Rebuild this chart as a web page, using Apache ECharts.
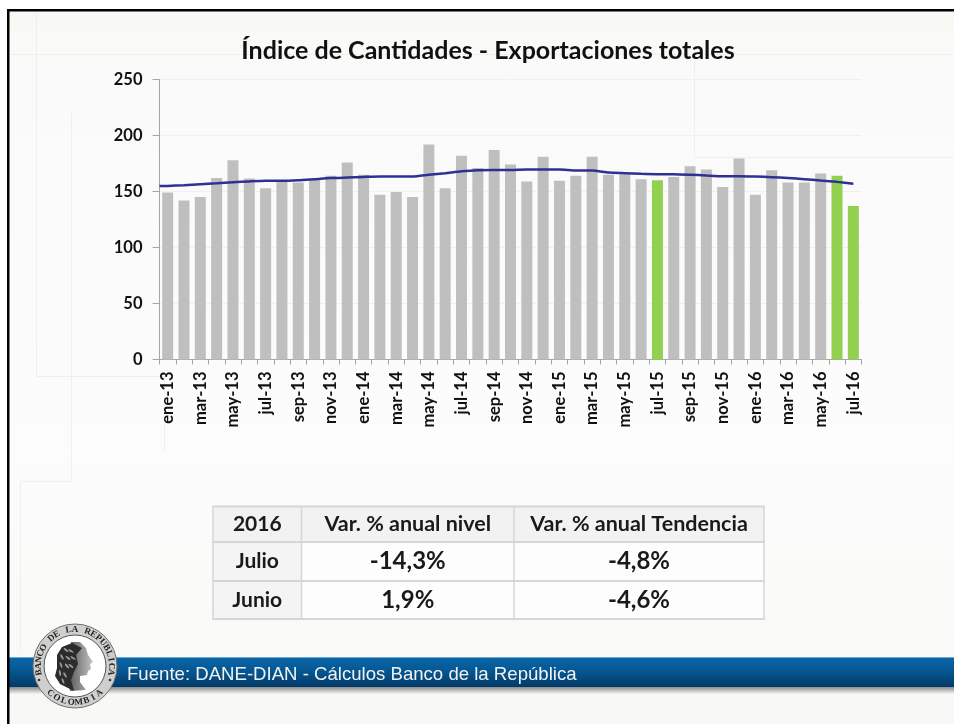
<!DOCTYPE html>
<html>
<head>
<meta charset="utf-8">
<style>html,body{margin:0;padding:0;background:#fff}#c{width:954px;height:724px}</style>
<script src="https://cdn.jsdelivr.net/npm/echarts@6/dist/echarts.min.js"></script>
</head>
<body>
<div id="c"></div>
<script>
const titulo = 'Índice de Cantidades - Exportaciones totales';
const fuente = 'Fuente: DANE-DIAN - Cálculos Banco de la República';
const meses = ['ene-13','feb-13','mar-13','abr-13','may-13','jun-13','jul-13','ago-13','sep-13','oct-13','nov-13','dic-13',
  'ene-14','feb-14','mar-14','abr-14','may-14','jun-14','jul-14','ago-14','sep-14','oct-14','nov-14','dic-14',
  'ene-15','feb-15','mar-15','abr-15','may-15','jun-15','jul-15','ago-15','sep-15','oct-15','nov-15','dic-15',
  'ene-16','feb-16','mar-16','abr-16','may-16','jun-16','jul-16'];
const indice = [149,142,145,162,178,161.6,153,158.6,158,160,164,176,
  165,147,149.5,145,192,153,182,171,187,174,159,181,
  159.5,164,181,165,165.5,161,160,163,172.6,169.6,154,179.5,
  147,169,158,158,166,164,137];
const tendencia = [155,155.6,156.5,157.4,158.3,159,159.5,159.5,160,161,162,162.5,
  163,163.4,163.4,163.4,165,166.4,168,169,169.3,169.3,169.6,169.6,
  169.6,168.8,168.8,167,166.4,165.8,165.5,165.5,165,164.3,163.7,163.7,
  163.4,162.8,162,161,159.8,158.6,157];
const tendenciaInicio = 154.8;
const destacados = ['jul-15','jun-16','jul-16'];
const yMax = 250, yPaso = 50;
const tablaFilas = [
  ['2016','Var. % anual nivel','Var. % anual Tendencia'],
  ['Julio','-14,3%','-4,8%'],
  ['Junio','1,9%','-4,6%']
];

const G = '#bfbfbf', V = '#92d050';
const font = 'Lato, "Open Sans", sans-serif';

// --- decoración ---
const graphic = [];
function rect(x,y,w,h,fill,z){graphic.push({type:'rect',silent:true,z:z,shape:{x,y,width:w,height:h},style:{fill}});}
function seg(x1,y1,x2,y2,c,w,z){graphic.push({type:'line',silent:true,z:z,shape:{x1,y1,x2,y2},style:{stroke:c,lineWidth:w||1}});}
function txt(t,x,y,size,weight,color,z,fam,align){
  graphic.push({type:'text',silent:true,z:z,x:x,y:y,
    style:{text:t,fill:color,font:(weight||'normal')+' '+size+'px '+(fam||font),textAlign:align||'center',textVerticalAlign:'middle'}});
}
// fondo
graphic.push({type:'rect',silent:true,z:-20,shape:{x:8,y:10,width:946,height:714},
  style:{fill:new echarts.graphic.LinearGradient(0,0,0,1,[
    {offset:0,color:'#f7f7f3'},{offset:0.05,color:'#fafaf8'},{offset:0.09,color:'#fafafa'},{offset:0.62,color:'#fcfcfc'},{offset:1,color:'#f8f8f6'}])}});
const fl = '#efefef';
[[36,11,36,376],[36,376,165,376],[71,113,71,481],[20,481,71,481],[20,481,20,650],[164,376,164,451],
 [10,54,954,54],[694,60,694,157],[694,157,954,157]].forEach(s=>seg(s[0]+.5,s[1]+.5,s[2]+.5,s[3]+.5,fl,1,-15));
// marco
rect(7,9,947,2.5,'#000',50);
rect(7,9,2.5,715,'#000',50);
// tabla
const colX = [213,301.5,514,764], filY = [506.5,542,581,619];
rect(213,506.5,551,35.5,'#f2f2f2',5);
rect(213,542,88.5,77,'#f4f4f4',5);
rect(301.5,542,462.5,77,'#fdfdfd',5);
colX.forEach(x=>seg(x,506,x,620,'#d6d6d6',1.5,6));
filY.forEach(y=>seg(212.5,y,764.5,y,'#d6d6d6',2,6));
const tamTabla = (i,j)=> j===0 ? 21 : (i===0 ? 21.5 : 24);
tablaFilas.forEach((fila,i)=>fila.forEach((t,j)=>{
  const cx=(colX[j]+colX[j+1])/2, cy=(filY[i]+filY[i+1])/2;
  txt(t,cx,cy,tamTabla(i,j),'bold','#1a1a1a',7);
}));
// banda inferior
graphic.push({type:'rect',silent:true,z:8,shape:{x:9,y:687,width:945,height:7},
  style:{fill:new echarts.graphic.LinearGradient(0,0,0,1,[{offset:0,color:'#8a8a8a'},{offset:1,color:'#f6f6f4'}])}});
graphic.push({type:'rect',silent:true,z:9,shape:{x:9,y:657,width:945,height:30},
  style:{fill:new echarts.graphic.LinearGradient(0,0,0,1,[{offset:0,color:'#0a68ab'},{offset:0.5,color:'#05558f'},{offset:1,color:'#033a68'}])}});
seg(9,657.5,954,657.5,'#6fa9cf',1,10);
txt(fuente,127,675,18.6,'normal','#f2f2f2',11,'"Liberation Sans", Arial, sans-serif','left');
// sello
const cx=75, cy=666;
graphic.push({type:'circle',silent:true,z:12,shape:{cx,cy,r:42},style:{fill:'#cfcfcd',stroke:'#6f6f6f',lineWidth:1}});
graphic.push({type:'circle',silent:true,z:13,shape:{cx,cy,r:31},style:{fill:'#fff',stroke:'#555',lineWidth:1}});
function arco(t,a0,a1,inv){
  const n=t.length;
  [...t].forEach((ch,i)=>{
    const a=(a0+(a1-a0)*i/(n-1))*Math.PI/180;
    const r=36.5;
    graphic.push({type:'text',silent:true,z:14,x:cx+r*Math.sin(a),y:cy-r*Math.cos(a),rotation:inv?Math.PI-a:-a,
      style:{text:ch,fill:'#222',font:'bold 9px "Liberation Serif", serif',textAlign:'center',textVerticalAlign:'middle'}});
  });
}
arco('BANCO DE LA REPUBLICA',-100,100,false);
arco('COLOMBIA',222,138,true);
graphic.push({type:'circle',silent:true,z:14,shape:{cx:cx-36,cy:cy+14,r:1.3},style:{fill:'#333'}});
graphic.push({type:'circle',silent:true,z:14,shape:{cx:cx+35,cy:cy+14,r:1.3},style:{fill:'#333'}});
// perfil
graphic.push({type:'polygon',silent:true,z:15,shape:{points:[[71,642],[80,642],[86,648],[88,655],[93,662],[90,664],[91,669],[88,671],[87,675],[80,676],[80,682],[86,690],[70,691],[68,680],[72,668]]},
  style:{fill:new echarts.graphic.LinearGradient(0,0,1,0,[{offset:0,color:'#555'},{offset:1,color:'#c4c4c4'}])}});
graphic.push({type:'polygon',silent:true,z:16,shape:{points:[[72,643],[62,647],[57,655],[57,668],[55,676],[60,684],[68,688],[74,691],[71,680],[74,672],[78,664],[76,655],[82,648]]},style:{fill:'#2c2c2c'}});
[[66,650,-40],[71,651,-30],[62,657,-60],[68,658,-40],[73,658,-30],[61,665,-70],[67,666,-50],[71,666,-40],[60,673,-80],[65,675,-60],[63,681,-70]].forEach(p=>{
  graphic.push({type:'ellipse',silent:true,z:17,x:p[0],y:p[1],rotation:p[2]*Math.PI/180,shape:{cx:0,cy:0,rx:3,ry:1},style:{fill:'#9a9a9a'}});
});

const chart = echarts.init(document.getElementById('c'));
chart.setOption({
  animation:false,
  backgroundColor:'#fff',
  title:{text:titulo,left:483,top:33,textAlign:'center',
    textStyle:{fontFamily:font,fontWeight:'bold',fontSize:25,color:'#111'}},
  grid:{left:159.5,right:92.5,top:79.5,bottom:364.5,containLabel:false},
  xAxis:[
    {type:'category',data:meses,boundaryGap:true,
     axisLine:{onZero:false,lineStyle:{color:'#a6a6a6',width:1}},
     axisTick:{show:true,alignWithLabel:false,interval:0,length:5,lineStyle:{color:'#a6a6a6'}},
     axisLabel:{interval:1,rotate:90,margin:12,fontFamily:font,fontWeight:'bold',fontSize:16.5,color:'#111'}},
    {type:'value',show:false,min:-0.5,max:42.5}
  ],
  yAxis:{type:'value',min:0,max:yMax,interval:yPaso,
     axisLine:{show:true,onZero:false,lineStyle:{color:'#a6a6a6',width:1}},
     axisTick:{show:true,length:7,lineStyle:{color:'#a6a6a6'}},
     axisLabel:{margin:17,fontFamily:font,fontWeight:'bold',fontSize:16.5,color:'#111'},
     splitLine:{show:true,lineStyle:{color:'#f0f0f0',width:1}}},
  series:[
    {type:'bar',name:'Índice',barWidth:11,xAxisIndex:0,
     data:indice.map((v,i)=>({value:v,itemStyle:{color:destacados.includes(meses[i])?V:G}}))},
    {type:'line',name:'Tendencia',xAxisIndex:1,showSymbol:false,symbol:'none',smooth:0.2,
     lineStyle:{color:'#2f2f96',width:2.5},
     data:[[-0.5,tendenciaInicio]].concat(tendencia.map((v,i)=>[i,v]))}
  ],
  graphic:graphic
});
</script>
</body>
</html>
